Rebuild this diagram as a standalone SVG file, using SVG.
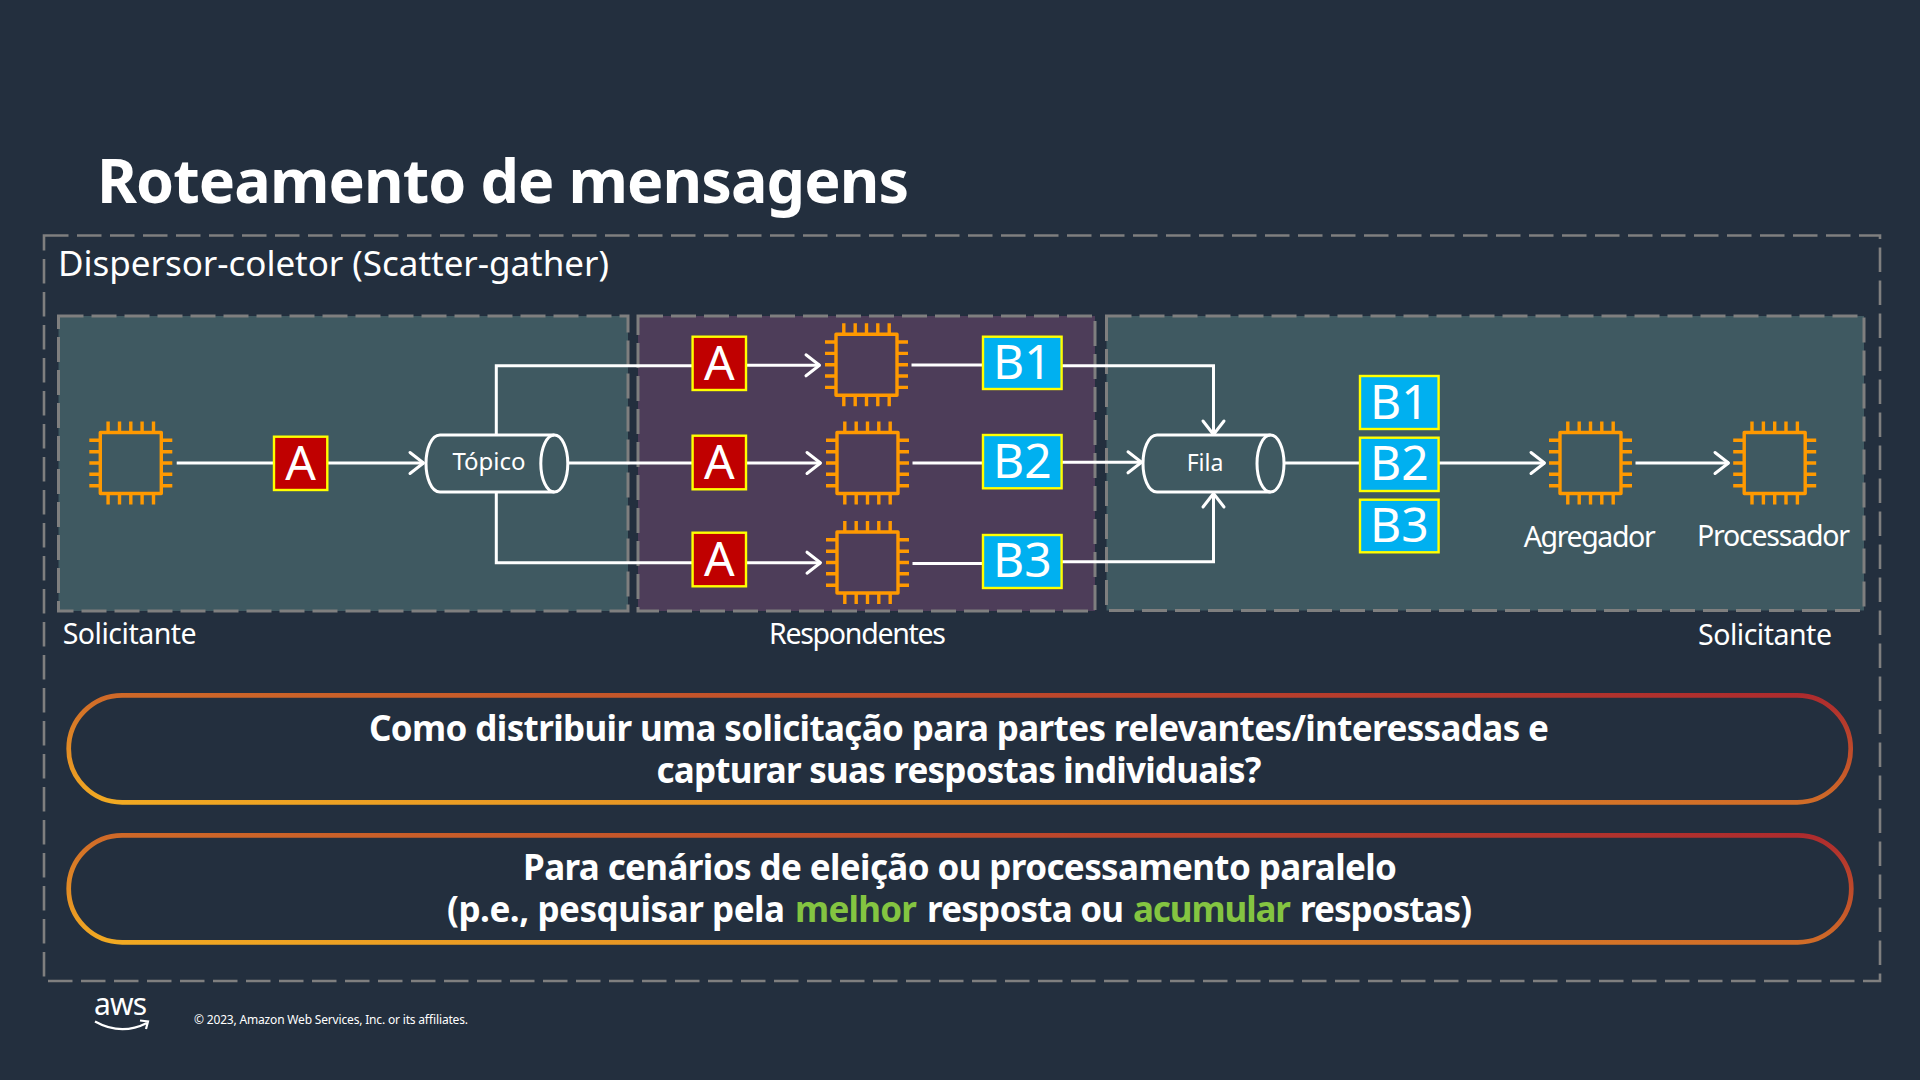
<svg xmlns="http://www.w3.org/2000/svg" width="1920" height="1080" viewBox="0 0 1920 1080">
<style>
text{font-family:"Noto Sans","Open Sans","Liberation Sans",sans-serif;fill:#fff}
.panel{stroke:#7f7f7f;stroke-width:3;stroke-dasharray:25 8}
.wire{fill:none;stroke:#fff;stroke-width:3;stroke-linejoin:miter}
.box{stroke:#ff0;stroke-width:2.4}
.a{fill:#c00000}.b{fill:#00b0f0}
.big{font-size:48px;text-anchor:middle}
.lbl{font-size:28.500px}
.cyl{fill:none;stroke:#fff;stroke-width:3}
.pill{fill:none;stroke:url(#grad);stroke-width:4.7}
.pt{font-size:35px;font-weight:700;text-anchor:middle}
.pl{font-size:35px;font-weight:700}
.g{fill:#84c441}
</style>
<defs>
<linearGradient id="grad" x1="0" y1="1" x2="1" y2="0"><stop offset="0" stop-color="#f2ab22"/><stop offset="1" stop-color="#ad2a2e"/></linearGradient>
<marker id="arr" markerUnits="userSpaceOnUse" markerWidth="20" markerHeight="26" refX="15.5" refY="12" orient="auto" overflow="visible"><path d="M1.5 1.5L15 12L1.5 22.500" fill="none" stroke="#fff" stroke-width="3" stroke-linecap="round" stroke-linejoin="round"/></marker>
<g id="chip" fill="none" stroke="#f90" stroke-width="3.4">
<rect x="-30.500" y="-30.500" width="61" height="61" stroke-linejoin="round"/>
<path d="M-22.700-30.500V-41.500M-11.300-30.500V-41.500M0-30.500V-41.500M11.300-30.500V-41.500M22.700-30.500V-41.500M-22.700 30.500V41.500M-11.300 30.500V41.500M0 30.500V41.500M11.300 30.500V41.500M22.700 30.500V41.500M-30.500-22.700H-41.500M-30.500-11.300H-41.500M-30.500 0H-41.500M-30.500 11.300H-41.500M-30.500 22.700H-41.500M30.500-22.700H41.500M30.500-11.300H41.500M30.500 0H41.500M30.500 11.300H41.500M30.500 22.700H41.500"/>
</g>
</defs>
<rect width="1920" height="1080" fill="#232f3e"/>
<text x="97" y="203" font-size="61" font-weight="700" textLength="812" lengthAdjust="spacing">Roteamento de mensagens</text>
<rect x="44" y="235.500" width="1836" height="745.500" fill="none" stroke="#7f7f7f" stroke-width="2.600" stroke-dasharray="24.500 8.500"/>
<text x="58" y="275.500" font-size="35" textLength="551">Dispersor-coletor (Scatter-gather)</text>
<rect class="panel" x="58.500" y="316" width="569.500" height="295" fill="#3f5961"/>
<rect class="panel" x="638" y="316" width="457" height="295" fill="#4d3d59"/>
<rect class="panel" x="1106.500" y="316" width="757.500" height="294.500" fill="#3f5961"/>
<g id="connectors" class="wire">
<path d="M176.700 463H424" marker-end="url(#arr)"/>
<path d="M496.300 435V365.700H693"/>
<path d="M496.300 492V562.700H693"/>
<path d="M568 463H693"/>
<path d="M746 365.300H820" marker-end="url(#arr)"/>
<path d="M746 463H821" marker-end="url(#arr)"/>
<path d="M746 562.700H821" marker-end="url(#arr)"/>
<path d="M911.500 365H983"/>
<path d="M912.500 463H983"/>
<path d="M912.500 563.500H983"/>
<path d="M1061 365.700H1213.500V435" marker-end="url(#arr)"/>
<path d="M1061 462.300H1142" marker-end="url(#arr)"/>
<path d="M1061 561.700H1213.500V493" marker-end="url(#arr)"/>
<path d="M1285 463H1360"/>
<path d="M1439 463H1545" marker-end="url(#arr)"/>
<path d="M1635.500 463H1729" marker-end="url(#arr)"/>
</g>
<g id="req-chip"><use href="#chip" x="130.800" y="463"/></g>
<g id="msg-a0"><rect class="box a" x="274" y="436.700" width="53.300" height="53.300"/><text class="big" x="300.700" y="480">A</text></g>
<g id="topico"><path class="cyl" d="M554.300 435H440C431 435 426 450 426 463.500S431 492 440 492H554.300"/><ellipse class="cyl" cx="554.300" cy="463.500" rx="13.500" ry="28.500"/><text x="489" y="470" font-size="24" text-anchor="middle">Tópico</text></g>
<g id="msg-a1"><rect class="box a" x="692.600" y="336.700" width="53.400" height="53.300"/><text class="big" x="719.300" y="380">A</text></g>
<g id="msg-a2"><rect class="box a" x="692.600" y="435.700" width="53.400" height="53.600"/><text class="big" x="719.300" y="479">A</text></g>
<g id="msg-a3"><rect class="box a" x="692.600" y="532.700" width="53.400" height="53.600"/><text class="big" x="719.300" y="576">A</text></g>
<g id="resp-chip1"><use href="#chip" x="866.500" y="364.700"/></g>
<g id="resp-chip2"><use href="#chip" x="867.500" y="463"/></g>
<g id="resp-chip3"><use href="#chip" x="867.500" y="562.500"/></g>
<g id="msg-b1"><rect class="box b" x="983" y="336.700" width="78.600" height="52.300"/><text class="big" x="1022.300" y="379">B1</text></g>
<g id="msg-b2"><rect class="box b" x="983" y="435" width="78.600" height="53.300"/><text class="big" x="1022.300" y="478">B2</text></g>
<g id="msg-b3"><rect class="box b" x="983" y="535" width="78.600" height="53"/><text class="big" x="1022.300" y="577">B3</text></g>
<g id="fila"><path class="cyl" d="M1270.500 435H1157C1148 435 1143 450 1143 463.500S1148 492 1157 492H1270.500"/><ellipse class="cyl" cx="1270.500" cy="463.500" rx="13.500" ry="28.500"/><text x="1205" y="471" font-size="23" text-anchor="middle">Fila</text></g>
<g id="agg-b1"><rect class="box b" x="1360" y="376" width="78.600" height="53"/><text class="big" x="1399.300" y="419">B1</text></g>
<g id="agg-b2"><rect class="box b" x="1360" y="437.700" width="78.600" height="53.300"/><text class="big" x="1399.300" y="480">B2</text></g>
<g id="agg-b3"><rect class="box b" x="1360" y="499.700" width="78.600" height="52.600"/><text class="big" x="1399.300" y="542">B3</text></g>
<g id="agregador"><use href="#chip" x="1590.500" y="463"/><text class="lbl" x="1523.700" y="546.500" textLength="132">Agregador</text></g>
<g id="processador"><use href="#chip" x="1774.700" y="463"/><text class="lbl" x="1697" y="545.500" textLength="153">Processador</text></g>
<text class="lbl" x="62.700" y="643.500" textLength="134">Solicitante</text>
<text class="lbl" x="769" y="643.500" textLength="177">Respondentes</text>
<text class="lbl" x="1698" y="644.500" textLength="134">Solicitante</text>
<g id="pill1"><rect class="pill" x="68.700" y="695.300" width="1782" height="107" rx="53.500"/>
<text class="pt" x="959" y="740.500" textLength="1180">Como distribuir uma solicitação para partes relevantes/interessadas e</text>
<text class="pt" x="959" y="782.500" textLength="605">capturar suas respostas individuais?</text></g>
<g id="pill2"><rect class="pill" x="68.700" y="835.300" width="1782.600" height="107" rx="53.500"/>
<text class="pt" x="960" y="879.500" textLength="874">Para cenários de eleição ou processamento paralelo</text>
<text class="pl" y="921.500"><tspan x="447" textLength="338">(p.e., pesquisar pela</tspan> <tspan class="g" x="795" textLength="122">melhor</tspan> <tspan x="927" textLength="197">resposta ou</tspan> <tspan class="g" x="1133" textLength="158">acumular</tspan> <tspan x="1300" textLength="172">respostas)</tspan></text></g>
<g id="logo"><text x="94" y="1015" font-size="30" textLength="53">aws</text><path d="M95 1021.500Q121 1036 147 1023M140 1020.500L148 1021.500L146 1029" fill="none" stroke="#fff" stroke-width="2.200"/></g>
<text x="194" y="1024" font-size="12" textLength="274">© 2023, Amazon Web Services, Inc. or its affiliates.</text>
</svg>
